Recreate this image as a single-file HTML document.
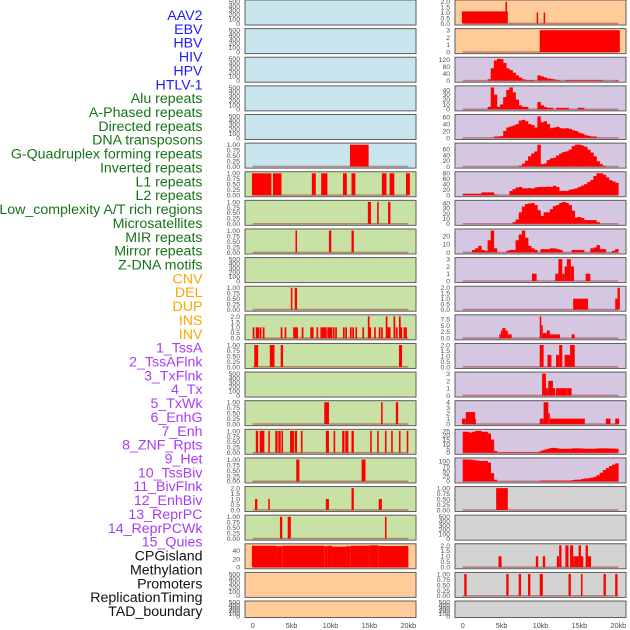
<!DOCTYPE html>
<html><head><meta charset="utf-8"><style>
html,body{margin:0;padding:0;background:#fff;}
svg{display:block;font-family:"Liberation Sans",sans-serif;}
</style></head><body>
<svg id="chart" width="630" height="630" viewBox="0 0 630 630">
<g id="labels"></g>
<g id="panels"></g>
<g id="xaxes"></g>
</svg>
<script>
const trackLabels = ["AAV2","EBV","HBV","HIV","HPV","HTLV-1","Alu repeats","A-Phased repeats","Directed repeats","DNA transposons","G-Quadruplex forming repeats","Inverted repeats","L1 repeats","L2 repeats","Low_complexity A/T rich regions","Microsatellites","MIR repeats","Mirror repeats","Z-DNA motifs","CNV","DEL","DUP","INS","INV","1_TssA","2_TssAFlnk","3_TxFlnk","4_Tx","5_TxWk","6_EnhG","7_Enh","8_ZNF_Rpts","9_Het","10_TssBiv","11_BivFlnk","12_EnhBiv","13_ReprPC","14_ReprPCWk","15_Quies","CPGisland","Methylation","Promoters","ReplicationTiming","TAD_boundary"];
const labelGroups = [6,13,5,15,5];
const groupColors = ["#1c1cff","#177317","#ffa500","#a93cf5","#111111"];
const xTicks = [0,5,10,15,20];
const xTickLabels = ["0","5kb","10kb","15kb","20kb"];

// segment data [start kb, end kb, value]
const L5 = [[12.5,14.9,1]];
const L6 = [[-0.1,2.4,1],[2.6,3.7,1],[7.6,8.1,1],[8.8,9.6,1],[11.6,12.1,1],[12.7,13.2,1],[16.6,17.2,1],[17.6,18.2,1],[19.7,20.2,1]];
const L7 = [[14.8,15.2,1],[16.0,16.2,1],[17.4,17.7,1]];
const L8 = [[5.5,5.7,1],[9.8,10.1,1],[12.7,13.0,1]];
const L10 = [[4.9,5.1,1],[5.4,5.7,1]];
const L11pos = [0,0.4,0.6,0.9,1.3,3.6,4.1,5.2,5.4,5.6,6.3,7.4,7.6,8.2,8.7,8.9,9.1,9.3,9.6,9.8,10.0,10.3,10.6,11.6,11.9,12.5,12.8,13.2,14.1,14.8,15.0,15.6,16.2,16.5,17.1,17.3,17.5,18.1,18.4,18.8,19.0,19.4,19.6];
const L11val = [1,1,1,1,1,1,1,1,1,1,1,1,1,1,1,1,1,1,1,1,1,1,1,1,1,1,1,1,1,2,1,1,1,1,2,1,1,2,1,2,1,1,1];
const L12 = [[0.2,0.7,1],[2.2,2.8,1],[3.6,3.9,1],[18.8,19.2,1]];
const L14 = [[9.2,9.8,1],[16.5,16.7,1],[18.4,18.7,1]];
const L15 = [[0.4,0.7,1],[0.9,1.5,1],[2.0,2.2,1],[2.9,3.2,1],[3.3,3.6,1],[3.7,3.9,1],[4.8,5.3,1],[5.4,5.7,1],[6.2,6.4,1],[9.4,9.8,1],[10.4,10.6,1],[11.5,11.8,1],[11.9,12.3,1],[12.7,13.0,1],[15.1,15.3,1],[16.0,16.2,1],[17.0,17.2,1],[17.8,18.0,1],[18.8,19.0,1],[19.8,20.0,1]];
const L16 = [[5.6,6.0,1],[14.0,14.5,1]];
const L17 = [[0.3,0.6,1],[2.0,2.2,1],[9.4,9.8,1],[12.7,13.0,2],[16.2,16.6,1]];
const L18 = [[3.5,3.8,1],[4.5,4.9,1],[17.0,17.2,1]];
const L19 = [[-0.1,3.0,52],[3.0,3.8,51],[3.8,9.2,52],[9.2,9.6,51],[9.6,10.2,52],[10.2,12.0,50],[12.0,12.6,51],[12.6,15.0,52],[15.0,16.2,53],[16.2,20.0,51.5]];
const R0 = [[-0.1,5.5,1.1],[5.5,5.7,2],[5.7,5.8,1.1],[9.5,9.7,1],[10.4,10.6,1]];
const R1 = [[9.9,20.2,3]];
const R9 = [[8.9,9.5,1],[11.9,12.3,1],[12.3,12.8,3],[12.8,13.1,1],[13.1,13.4,2],[13.4,13.9,3],[13.9,14.3,2],[15.8,16.4,1]];
const R10 = [[14.2,16.1,1],[19.6,19.9,1],[19.9,20.2,2]];
const R11 = [[4.7,4.9,1.5],[4.9,5.1,3],[5.1,5.5,4],[5.5,5.8,3],[5.8,6.3,1.5],[9.9,10.1,8.5],[10.1,10.3,5],[10.3,10.8,2],[10.8,11.2,3],[11.2,11.6,1.5],[11.6,12.5,1.5],[14.0,14.4,1.5]];
const R12 = [[9.9,10.4,2],[10.9,11.4,1.1],[12.0,12.4,1.1],[12.4,12.8,2],[13.1,13.8,1.1],[13.8,14.4,2]];
const R13 = [[10.2,10.7,3],[10.7,11.0,1],[11.0,11.6,2],[11.6,11.9,1],[12.0,13.5,1],[13.5,14.0,1]];
const R14 = [[-0.1,0.4,1],[0.4,1.6,2.2],[1.6,1.7,1],[9.9,10.4,1],[10.4,11.0,4],[11.0,11.2,2],[11.2,15.7,1],[18.4,19.0,1],[19.6,20.1,1]];
const R17 = [[4.3,5.8,1]];
const R19 = [[4.6,5.0,1],[9.4,9.7,1],[10.3,10.6,1],[12.1,12.4,1],[12.4,12.7,2],[13.2,13.6,2],[13.8,14.2,2],[14.2,14.4,1],[14.4,14.9,1],[14.9,15.2,2],[15.2,15.5,1],[15.8,16.1,2],[16.1,16.5,1]];
const R20 = [[0.2,0.5,1],[5.6,5.9,1],[7.2,7.5,1],[8.4,8.7,1],[9.9,10.3,1],[13.6,13.9,1],[15.2,15.4,1],[18.1,18.4,1],[19.6,19.9,1]];

// binned density data, 0.4 kb bins from 0 to 20 kb
const R2 = [0,0,0,0,0,0,0,0,8,70,115,124,122,100,70,60,45,30,18,8,4,4,4,0,30,24,18,12,10,7,4,0,0,4,4,4,4,4,4,4,4,4,4,4,4,0,0,0,0,4];
const R3 = [0,0,0,0,0,0,0,0,5,45,30,5,10,25,40,45,35,20,8,5,5,0,0,0,15,8,5,3,3,0,3,3,3,3,0,0,0,3,3,0,0,0,0,0,0,0,0,0,0,0];
const R4 = [0,0,0,0,0,0,0,0,0,0,4,4,5,20,30,33,36,40,50,52,48,40,37,30,62,45,48,40,28,30,32,28,27,28,26,22,20,15,12,8,6,4,4,0,0,0,0,0,0,0];
const R5 = [0,0,0,0,0,0,0,0,0,0,0,0,0,0,0,0,0,0,3,10,20,35,45,52,75,8,10,22,28,30,38,45,50,52,58,70,75,75,72,68,58,48,35,18,8,2,0,0,0,0];
const R6 = [5,5,5,5,5,5,10,10,10,10,2,0,0,0,0,15,22,28,30,25,25,26,24,28,30,30,30,31,30,34,30,15,16,15,20,22,25,30,35,40,48,55,70,80,80,75,65,55,50,45];
const R7 = [0,0,0,0,0,0,0,0,0,0,0,0,0,0,0,0,3,8,22,33,38,39,40,36,26,15,22,22,28,34,36,40,42,40,36,25,12,13,11,7,7,7,7,3,0,0,0,0,0,0];
const R8 = [0,0,0,3,5,8,3,2,15,27,5,0,0,0,2,3,3,15,22,27,18,8,5,3,0,4,4,4,5,5,4,3,0,0,0,3,3,3,3,0,0,5,6,9,4,4,0,0,2,4];
const R15 = [24,24,23,24,25,25,24,24,22,15,2,0.5,0.5,0.5,0.5,0.5,0.5,0.5,0.5,0.5,0.5,0.5,0.5,0.5,1,2.5,3.5,4.5,5.5,5.5,5,4.5,4.5,4.5,4.5,5,5,5,4.8,4.5,4.5,4.5,4.5,5,5,5,5,4.8,4.8,4.5];
const R16 = [107,107,106,105,102,100,100,100,92,40,8,0,0,0,0,0,0,0,0,0,0,0,0,0,0,4,4,4,4,4,4,4,4,4,4,6,8,8,12,14,15,18,22,30,42,55,65,75,82,88];

const BIN = 0.4;
const T500 = [[0,100,200,300,400,500],["0","100","200","300","400","500"],500];
const T1 = [[0,0.25,0.5,0.75,1],["0.00","0.25","0.50","0.75","1.00"],1];
const T2 = [[0,0.5,1,1.5,2],["0.0","0.5","1.0","1.5","2.0"],2];
const T3 = [[0,1,2,3],["0","1","2","3"],3];
const C = {blue:"#c8e4ec",green:"#c8e1a5",orange:"#ffcc99",purple:"#d5c6e1",gray:"#d3d3d3"};

// panel definitions: [column, row, bg, ticks, segs, bins, name]
const leftPanels = [
 ["blue",T500,null,null],["blue",T500,null,null],["blue",T500,null,null],["blue",T500,null,null],["blue",T500,null,null],
 ["blue",T1,L5,null],["green",T1,L6,null],["green",T1,L7,null],["green",T1,L8,null],["green",T500,null,null],
 ["green",T1,L10,null],["green",T2,"L11",null],["green",T1,L12,null],["green",T500,null,null],["green",T1,L14,null],
 ["green",T1,L15,null],["green",T1,L16,null],["green",T2,L17,null],["green",T1,L18,null],
 ["orange",[[0,20,40],["0","20","40"],53],L19,null],["orange",T500,null,null],["orange",T500,null,null]
];
const rightPanels = [
 ["orange",T2,R0,null],["orange",T3,R1,null],
 ["purple",[[0,40,80,120],["0","40","80","120"],124],null,R2],
 ["purple",[[0,10,20,30,40],["0","10","20","30","40"],45],null,R3],
 ["purple",[[0,20,40,60],["0","20","40","60"],63],null,R4],
 ["purple",[[0,20,40,60],["0","20","40","60"],75],null,R5],
 ["purple",[[0,20,40,60,80],["0","20","40","60","80"],80],null,R6],
 ["purple",[[0,10,20,30,40],["0","10","20","30","40"],42],null,R7],
 ["purple",[[0,10,20],["0","10","20"],27],null,R8],
 ["purple",T3,R9,null],["purple",T2,R10,null],
 ["purple",[[0,2.5,5,7.5],["0.0","2.5","5.0","7.5"],8.5],R11,null],
 ["purple",T2,R12,null],["purple",T3,R13,null],
 ["purple",[[0,1,2,3,4],["0","1","2","3","4"],4],R14,null],
 ["purple",[[0,5,10,15,20,25],["0","5","10","15","20","25"],25],null,R15],
 ["purple",[[0,25,50,75,100],["0","25","50","75","100"],107],null,R16],
 ["gray",T1,R17,null],["gray",T500,null,null],["gray",T2,R19,null],["gray",T1,R20,null],["gray",T500,null,null]
];

const NS = "http://www.w3.org/2000/svg";
function mk(tag, attrs, parent){ const e=document.createElementNS(NS,tag); for(const k in attrs) e.setAttribute(k,attrs[k]); parent.appendChild(e); return e; }

const labG = document.getElementById("labels");
let idx=0;
labelGroups.forEach((n,g)=>{ for(let i=0;i<n;i++){ const t=mk("text",{x:202.5,y:(20+idx*13.86).toFixed(2),"text-anchor":"end","font-size":"14.2",fill:groupColors[g]},labG); t.textContent=trackLabels[idx];
 
 
 idx++; } });

const panG = document.getElementById("panels");
const colX = [{x0:245,x1:416,z:252.7},{x0:455,x1:626,z:462.7}];
const KB = 7.78;
function xs(col,kb){ return colX[col].z + kb*KB; }

function drawPanel(col,row,p){
 const [bg,ticks,segs,bins]=p;
 const top=row*28.62, h=(row===21?16.5:25), bot=top+h;
 const g=mk("g",{},panG);
 
 
 const r=mk("rect",{x:colX[col].x0,y:top,width:colX[col].x1-colX[col].x0,height:h,fill:C[bg],stroke:"#5e5e5e","stroke-width":1},g);
 
 
 const max=ticks[2], lo=-0.05*max, hi=max*1.05;
 const ys=v=> bot-0.5-(v-lo)/(hi-lo)*(h-1);
 ticks[0].forEach((v,i)=>{ const t=mk("text",{x:colX[col].x0-5,y:(ys(v)+2.4).toFixed(2),"text-anchor":"end","font-size":"6.8",fill:"#4d4d4d"},g); t.textContent=ticks[1][i];
  
   });
 const hasData = segs||bins;
 if(hasData){
  const bl=mk("line",{x1:xs(col,0),x2:xs(col,20),y1:ys(0),y2:ys(0),stroke:"rgba(150,30,30,0.45)","stroke-width":1.6},g);
  
  
 }
 let list=[];
 if(segs==="L11"){ list=L11pos.map((s,i)=>[s,s+0.22,L11val[i]]); }
 else if(segs){ list=segs; }
 if(bins){ list=bins.map((v,i)=>[i*BIN,(i+1)*BIN,v]).filter(d=>d[2]>0); }
 list.forEach(d=>{
  const x1=xs(col,d[0]), x2=xs(col,d[1]), y=ys(d[2]);
  const b=mk("rect",{x:x1.toFixed(2),y:y.toFixed(2),width:Math.max(0.8,x2-x1+ (bins?0.3:0)).toFixed(2),height:(ys(0)-y).toFixed(2),fill:"#ff0000"},g);
  
  
 });
}
leftPanels.forEach((p,i)=>drawPanel(0,i,p));
rightPanels.forEach((p,i)=>drawPanel(1,i,p));

const xa=document.getElementById("xaxes");
[0,1].forEach(col=>{ xTicks.forEach((v,i)=>{ const t=mk("text",{x:xs(col,v),y:628,"text-anchor":"middle","font-size":"7.2",fill:"#4d4d4d"},xa); t.textContent=xTickLabels[i];
 
  }); });
</script>
</body></html>
